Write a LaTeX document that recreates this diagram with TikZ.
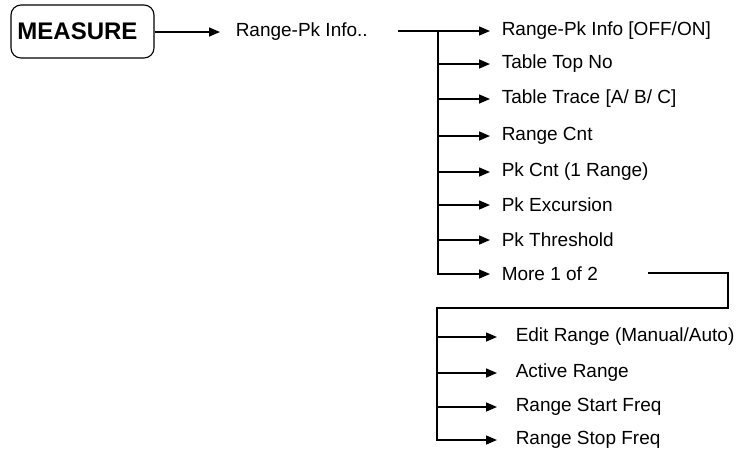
\documentclass[tikz,border=0pt]{standalone}
\usepackage{fontspec}
\setmainfont{Liberation Sans}
\usetikzlibrary{arrows.meta}
\begin{document}
\begin{tikzpicture}[x=1pt,y=-1pt,line width=1.5pt,
  item/.style={anchor=west,inner sep=0pt,font=\fontsize{19}{19}\selectfont},
  arr/.style={-{Triangle[length=11pt,width=9pt]}}]
\useasboundingbox (0,0) rectangle (739,456);
\node[draw,line width=1.1pt,rounded corners=10pt,minimum width=143pt,minimum height=53pt,inner sep=0pt,
  font=\fontsize{24}{24}\selectfont\bfseries] (m) at (82.5,31.5) {\hspace*{-10pt}MEASURE};
\node[item] (r) at (235,32) {Range-Pk Info..};
\node[item] (i1) at (501,31) {Range-Pk Info [OFF/ON]};
\node[item] (i2) at (501,64) {Table Top No};
\node[item] (i3) at (501,99) {Table Trace [A/ B/ C]};
\node[item] (i4) at (501,136) {Range Cnt};
\node[item] (i5) at (501,172) {Pk Cnt (1 Range)};
\node[item] (i6) at (501,205) {Pk Excursion};
\node[item] (i7) at (501,240) {Pk Threshold};
\node[item] (i8) at (501,274) {More 1 of 2};
\node[item] (j1) at (515,337) {Edit Range (Manual/Auto)};
\node[item] (j2) at (515,373) {Active Range};
\node[item] (j3) at (515,407) {Range Start Freq};
\node[item] (j4) at (515,440) {Range Stop Freq};
\coordinate (s) at (398,31);
\coordinate (t) at (438,31);
\coordinate (c1) at (648,273);
\coordinate (c2) at (728,273);
\coordinate (c3) at (728,308);
\coordinate (c4) at (437,308);
\draw[arr,shorten >=15pt] (m.east |- r.west) -- (r.west);
\draw[arr,shorten >=11pt] (s) -- (i1.west);
\draw[arr,shorten >=11pt] (t) |- (i8.west);
\foreach \n in {i2,i3,i4,i5,i6,i7}
  \draw[arr,shorten >=11pt] (t |- \n.west) -- (\n.west);
\draw[arr,shorten >=18pt] (c1) -- (c2) -- (c3) -- (c4) |- (j4.west);
\foreach \n in {j1,j2,j3}
  \draw[arr,shorten >=18pt] (c4 |- \n.west) -- (\n.west);
\end{tikzpicture}
\end{document}
